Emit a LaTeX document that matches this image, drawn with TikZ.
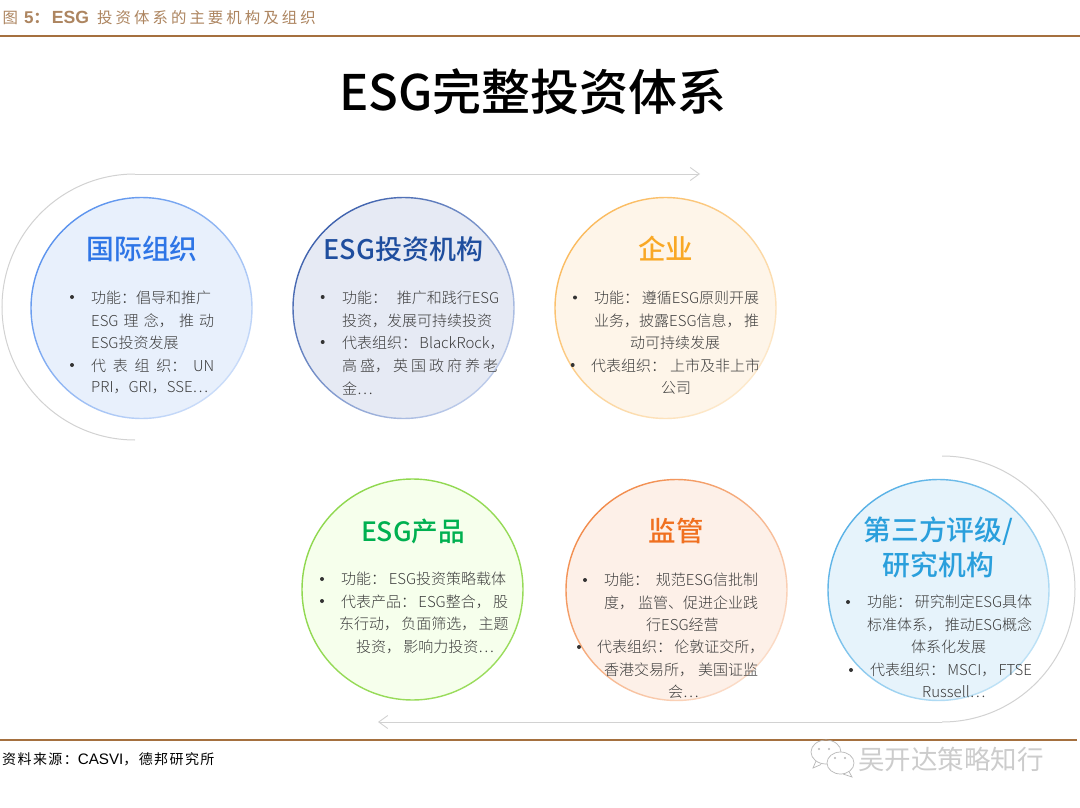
\documentclass[tikz,border=0pt]{standalone}
\usepackage{fontspec}
\usetikzlibrary{arrows.meta}
\setmainfont{Noto Sans CJK SC}
\newfontfamily\latinr{Liberation Sans}
\newfontfamily\capfont[LetterSpace=20]{Noto Sans CJK SC}
\newfontfamily\srcfont[LetterSpace=10]{Noto Sans CJK SC}
\newfontfamily\thinfont{Noto Sans CJK SC Light}
\newfontfamily\medfont{Noto Sans CJK SC Medium}
\definecolor{brownline}{HTML}{A5703F}
\definecolor{capcol}{HTML}{AD8560}
\definecolor{bodycol}{HTML}{3C3C3C}
\definecolor{arccol}{HTML}{D2D2D2}
\definecolor{f1}{HTML}{E8F0FC}\definecolor{f2}{HTML}{E6EAF4}\definecolor{f3}{HTML}{FEF5E9}
\definecolor{f4}{HTML}{F6FFEC}\definecolor{f5}{HTML}{FDF0E8}\definecolor{f6}{HTML}{E6F3FB}
\definecolor{a1}{HTML}{5B93EE}\definecolor{b1}{HTML}{CADCF9}
\definecolor{a2}{HTML}{3F62AE}\definecolor{b2}{HTML}{BCCBEA}
\definecolor{a3}{HTML}{FBBB5F}\definecolor{b3}{HTML}{FDE9CC}
\definecolor{a4}{HTML}{8FD84E}\definecolor{b4}{HTML}{9ADC5C}
\definecolor{a5}{HTML}{F28C4C}\definecolor{b5}{HTML}{FBDCC8}
\definecolor{a6}{HTML}{58B1E6}\definecolor{b6}{HTML}{BFE2F6}
\definecolor{h1}{HTML}{2E75E6}\definecolor{h2}{HTML}{1F4E9E}\definecolor{h3}{HTML}{F9A825}
\definecolor{h4}{HTML}{00B050}\definecolor{h5}{HTML}{F07020}\definecolor{h6}{HTML}{2A9FDC}
\tikzset{
  disc/.style={circle,inner sep=0pt,minimum size=221pt,fill=#1},
  head/.style={inner sep=0pt,text=#1},
  fs/.style={font=\medfont\fontsize{#1}{30}\selectfont},
  bodyt/.style={inner sep=0pt,anchor=west,text=bodycol,font=\thinfont\fontsize{15}{15}\selectfont},
  bull/.style={circle,inner sep=0pt,minimum size=4pt,fill=black!80},
  flow/.style={draw=arccol,line width=1pt,-{Straight Barb[length=9pt,width=13pt,line width=0.9pt]}},
  rule/.style={draw=brownline,line width=1.5pt},
  capt/.style={inner sep=0pt,anchor=west,text=capcol},
}
\newcounter{tn}
\newcommand\jl[4]{\stepcounter{tn}\node[bodyt] (t\arabic{tn}) at (#1,#3) {\makebox[\dimexpr #2pt-#1pt\relax][s]{#4}};}
\newcommand\bu[2]{\stepcounter{tn}\node[bull] (t\arabic{tn}) at (#1,#2) {};}
\newcommand\ring[3]{\shade[even odd rule,left color=#2,right color=#3,shading angle=45]
  (#1.center) circle[radius=111.2] (#1.center) circle[radius=109.8];}
\begin{document}
\begin{tikzpicture}[x=1pt,y=-1pt]
\useasboundingbox[fill=white] (0,0) rectangle (1080,808);
% header and footer
\node[capt,font=\capfont\fontsize{15.4}{15}\selectfont] (cap) at (2.5,18)
  {图\hspace{6pt}{\latinr\bfseries\fontsize{17}{15}\selectfont 5}{\bfseries ：}\hspace{3pt}{\latinr\bfseries\fontsize{17.6}{15}\selectfont ESG}\hspace{8pt}投资体系的主要机构及组织};
\coordinate (r1a) at (0,36); \coordinate (r1b) at (1080,36);
\draw[rule] (r1a) -- (r1b);
\coordinate (r2a) at (0,740); \coordinate (r2b) at (1077,740);
\draw[rule] (r2a) -- (r2b);
\node[inner sep=0pt,anchor=west,font=\srcfont\fontsize{14}{14}\selectfont] (src) at (2,759)
  {资料来源：{\latinr\fontsize{15.2}{14}\selectfont CASVI}，德邦研究所};
\node[inner sep=0pt,font=\medfont\fontsize{49}{52}\selectfont] (title) at (533,92) {ESG完整投资体系};
% flow arcs
\coordinate (fa) at (135,174); \coordinate (fb) at (700,174);
\coordinate (ga) at (942,722); \coordinate (gb) at (378,722);
\draw[draw=arccol,line width=1pt] (135,440) arc[start angle=-270,end angle=-90,radius=133];
\draw[flow] (fa) -- (fb);
\draw[draw=arccol,line width=1pt] (942,456) arc[start angle=-90,end angle=90,radius=133];
\draw[flow] (ga) -- (gb);
% discs
\node[disc=f1] (c1) at (141.5,308) {};
\node[disc=f2] (c2) at (403.5,308) {};
\node[disc=f3] (c3) at (665.5,308) {};
\node[disc=f4] (c4) at (412.5,589.5) {};
\node[disc=f5] (c5) at (676.5,590) {};
\node[disc=f6] (c6) at (938.5,590) {};
\ring{c1}{a1}{b1}\ring{c2}{a2}{b2}\ring{c3}{a3}{b3}\ring{c4}{a4}{b4}\ring{c5}{a5}{b5}\ring{c6}{a6}{b6}
% headings
\node[head=h1,fs=27.8] (h-a) at (142,249) {国际组织};
\node[head=h2,fs=27] (h-b) at (403.5,249) {ESG投资机构};
\node[head=h3,fs=27.5] (h-c) at (665.5,249) {企业};
\node[head=h4,fs=26.6] (h-d) at (413,531) {ESG产品};
\node[head=h5,fs=27.5] (h-e) at (676,531) {监管};
\node[head=h6,fs=27.8] (h-f) at (938.5,531) {第三方评级/};
\node[head=h6,fs=27.8] (h-g) at (938.5,565) {研究机构};
% circle 1
\bu{72}{297}\bu{72}{365}
\jl{91}{214}{298}{功能：倡导和推广}
\jl{91}{214}{320.5}{ESG 理 念， 推 动}
\jl{91}{178}{343}{ESG投资发展}
\jl{91}{214}{365.5}{代 表 组 织： UN}
\jl{91}{200}{388}{PRI，GRI，SSE⋯}
% circle 2
\bu{322.7}{297}\bu{322.7}{342}
\jl{342}{499}{298}{功能： 推广和践行ESG}
\jl{342}{496}{320.5}{投资，发展可持续投资}
\jl{342}{503}{343}{代表组织： BlackRock，}
\jl{342}{498}{365.5}{高 盛， 英 国 政 府 养 老}
\jl{342}{368}{388}{金⋯}
% circle 3
\bu{575}{297.5}\bu{572.7}{365}
\jl{594}{759}{298}{功能： 遵循ESG原则开展}
\jl{594}{759}{320.5}{业务，披露ESG信息， 推}
\jl{630}{722}{343}{动可持续发展}
\jl{591}{760}{365.5}{代表组织： 上市及非上市}
\jl{661}{692}{388}{公司}
% circle 4
\bu{322}{579}\bu{322}{601}
\jl{341}{506}{579}{功能： ESG投资策略载体}
\jl{341}{506}{602}{代表产品： ESG整合， 股}
\jl{339}{508}{624}{东行动， 负面筛选， 主题}
\jl{356}{491}{647}{投资， 影响力投资⋯}
% circle 5
\bu{585}{580}\bu{579}{647}
\jl{604}{758}{580}{功能： 规范ESG信批制}
\jl{604}{758}{602.5}{度， 监管、促进企业践}
\jl{646}{717}{625}{行ESG经营}
\jl{597}{757}{647}{代表组织： 伦敦证交所，}
\jl{604}{758}{670}{香港交易所， 美国证监}
\jl{668}{694}{692}{会⋯}
% circle 6
\bu{848}{602}\bu{851}{670}
\jl{867}{1032}{602}{功能： 研究制定ESG具体}
\jl{867}{1032}{625}{标准体系， 推动ESG概念}
\jl{911}{987}{647}{体系化发展}
\jl{870}{1029}{670}{代表组织： MSCI， FTSE}
\jl{922}{977}{692}{Russell⋯}
% watermark
\begin{scope}[draw=black!28,line width=0.7pt]
\draw (826,752) ellipse[x radius=15,y radius=12];
\draw (816,761) -- (813,768) -- (821,764.5);
\filldraw[fill=white] (840.5,763) ellipse[x radius=13.5,y radius=11];
\draw (849,771.5) -- (852,777) -- (843,774);
\fill[black!28] (819,749) circle[radius=1.2] (829,749) circle[radius=1.2] (835,758) circle[radius=1.1] (845,758) circle[radius=1.1];
\end{scope}
\node[inner sep=0pt,anchor=west,text=black!20,font=\fontsize{26.5}{26}\selectfont] (wm) at (858,759) {吴开达策略知行};
\end{tikzpicture}
\end{document}
